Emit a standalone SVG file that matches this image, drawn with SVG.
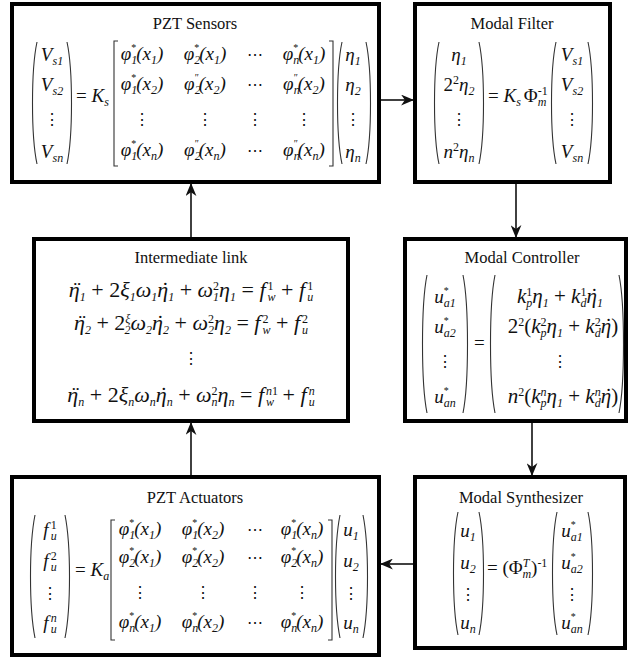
<svg xmlns="http://www.w3.org/2000/svg" width="628" height="659" viewBox="0 0 628 659">
<style>
.box{fill:#fff;stroke:#000;stroke-width:4}
.ttl{font-family:"Liberation Serif","Times New Roman","DejaVu Serif",serif;font-size:16.5px;fill:#111;text-anchor:middle}
.m{font-family:"Liberation Serif","Times New Roman","DejaVu Serif",serif;font-style:italic;font-size:18px;fill:#111}
.mx{font-size:19px}
.eq{font-size:22px}
.kc{font-size:21px}
.c{text-anchor:middle}
.r{font-style:normal}
.sb{font-size:12px;baseline-shift:-4px}
.sp{font-size:12px;baseline-shift:7px}
.st{font-size:10px;baseline-shift:9px;font-style:normal}
.dl{fill:none;stroke:#333;stroke-width:1.1}
.dots{font-family:"DejaVu Serif",serif;font-size:16px;fill:#111;text-anchor:middle}
.cn{stroke:#111;stroke-width:1.6;fill:none;marker-end:url(#ah)}
</style>
<defs>
<marker id="ah" viewBox="0 0 12 10" refX="11" refY="5" markerWidth="13" markerHeight="11" markerUnits="userSpaceOnUse" orient="auto"><path d="M0,0 L12,5 L0,10 L3.5,5 z" fill="#111"/></marker>
</defs>

<g id="pzt-sensors">
<rect class="box" x="12" y="4" width="367" height="178"/>
<text class="ttl" x="195" y="29">PZT Sensors</text>
<path class="dl" d="M37,42 C31,70 31,136 37,164 M67,42 C73,70 73,136 67,164"/>
<text class="m mx c" x="52" y="61">V<tspan class="sb">s1</tspan></text>
<text class="m mx c" x="52" y="91">V<tspan class="sb">s2</tspan></text>
<text class="dots" x="52" y="125">⋮</text>
<text class="m mx c" x="52" y="158">V<tspan class="sb">sn</tspan></text>
<text class="m mx" x="76" y="102"><tspan class="r">=</tspan> K<tspan class="sb">s</tspan></text>
<path class="dl" d="M118,41 H114 V166 H118 M329,41 H333 V166 H329"/>
<text class="m mx c" x="142" y="60">φ<tspan class="sb">1</tspan><tspan class="st" dx="-6">*</tspan>(x<tspan class="sb">1</tspan>)</text>
<text class="m mx c" x="205" y="60">φ<tspan class="sb">2</tspan><tspan class="st" dx="-6">*</tspan>(x<tspan class="sb">1</tspan>)</text>
<text class="dots" x="255" y="60">⋯</text>
<text class="m mx c" x="304" y="60">φ<tspan class="sb">n</tspan><tspan class="st" dx="-6">*</tspan>(x<tspan class="sb">1</tspan>)</text>
<text class="m mx c" x="142" y="90">φ<tspan class="sb">1</tspan><tspan class="st" dx="-6">*</tspan>(x<tspan class="sb">2</tspan>)</text>
<text class="m mx c" x="205" y="90">φ<tspan class="sb">2</tspan><tspan class="st" dx="-6">″</tspan>(x<tspan class="sb">2</tspan>)</text>
<text class="dots" x="255" y="90">⋯</text>
<text class="m mx c" x="304" y="90">φ<tspan class="sb">n</tspan><tspan class="st" dx="-6">″</tspan>(x<tspan class="sb">2</tspan>)</text>
<text class="dots" x="142" y="125">⋮</text>
<text class="dots" x="205" y="125">⋮</text>
<text class="dots" x="255" y="125">⋮</text>
<text class="dots" x="304" y="125">⋮</text>
<text class="m mx c" x="142" y="156">φ<tspan class="sb">1</tspan><tspan class="st" dx="-6">*</tspan>(x<tspan class="sb">n</tspan>)</text>
<text class="m mx c" x="205" y="156">φ<tspan class="sb">2</tspan><tspan class="st" dx="-6">″</tspan>(x<tspan class="sb">n</tspan>)</text>
<text class="dots" x="255" y="156">⋯</text>
<text class="m mx c" x="304" y="156">φ<tspan class="sb">n</tspan><tspan class="st" dx="-6">″</tspan>(x<tspan class="sb">n</tspan>)</text>
<path class="dl" d="M342,42 C336,70 336,136 342,164 M366,42 C372,70 372,136 366,164"/>
<text class="m mx c" x="353" y="61">η<tspan class="sb">1</tspan></text>
<text class="m mx c" x="353" y="91">η<tspan class="sb">2</tspan></text>
<text class="dots" x="353" y="125">⋮</text>
<text class="m mx c" x="353" y="158">η<tspan class="sb">n</tspan></text>
</g>

<g id="modal-filter">
<rect class="box" x="415" y="4" width="195" height="178"/>
<text class="ttl" x="512" y="29">Modal Filter</text>
<path class="dl" d="M439,42 C433,70 433,136 439,164 M479,42 C485,70 485,136 479,164"/>
<text class="m mx c" x="459" y="61">η<tspan class="sb">1</tspan></text>
<text class="m mx c" x="459" y="91"><tspan class="r">2</tspan><tspan class="sp r">2</tspan>η<tspan class="sb">2</tspan></text>
<text class="dots" x="459" y="125">⋮</text>
<text class="m mx c" x="459" y="158">n<tspan class="sp r">2</tspan>η<tspan class="sb">n</tspan></text>
<text class="m mx" x="488" y="102"><tspan class="r">=</tspan> K<tspan class="sb">s</tspan><tspan class="r" dx="3">Φ</tspan><tspan class="sp r">-1</tspan><tspan class="sb" dx="-10">m</tspan></text>
<path class="dl" d="M556,42 C550,70 550,136 556,164 M588,42 C594,70 594,136 588,164"/>
<text class="m mx c" x="572" y="61">V<tspan class="sb">s1</tspan></text>
<text class="m mx c" x="572" y="91">V<tspan class="sb">s2</tspan></text>
<text class="dots" x="572" y="125">⋮</text>
<text class="m mx c" x="572" y="158">V<tspan class="sb">sn</tspan></text>
</g>

<g id="intermediate-link">
<rect class="box" x="34" y="239" width="314" height="182"/>
<text class="ttl" x="191" y="263">Intermediate link</text>
<text class="m eq c" x="191" y="297">η<tspan dx="-7.8">¨</tspan><tspan class="sb" dx="0.5">1</tspan> <tspan class="r">+ 2</tspan>ξ<tspan class="sb">1</tspan>ω<tspan class="sb">1</tspan>η<tspan dx="-7.8">˙</tspan><tspan class="sb" dx="0.5">1</tspan> <tspan class="r">+</tspan> ω<tspan class="sp r">2</tspan><tspan class="sb" dx="-6">1</tspan>η<tspan class="sb">1</tspan> <tspan class="r">=</tspan> f<tspan class="sp r" dx="2">1</tspan><tspan class="sb" dx="-6">w</tspan> <tspan class="r">+</tspan> f<tspan class="sp r" dx="2">1</tspan><tspan class="sb" dx="-6">u</tspan></text>
<text class="m eq c" x="191" y="330">η<tspan dx="-7.8">¨</tspan><tspan class="sb" dx="0.5">2</tspan> <tspan class="r">+ 2</tspan><tspan class="sp">ξ</tspan><tspan class="sb" dx="-6">2</tspan>ω<tspan class="sb">2</tspan>η<tspan dx="-7.8">˙</tspan><tspan class="sb" dx="0.5">2</tspan> <tspan class="r">+</tspan> ω<tspan class="sp r">2</tspan><tspan class="sb" dx="-6">2</tspan>η<tspan class="sb">2</tspan> <tspan class="r">=</tspan> f<tspan class="sp r" dx="2">2</tspan><tspan class="sb" dx="-6">w</tspan> <tspan class="r">+</tspan> f<tspan class="sp r" dx="2">2</tspan><tspan class="sb" dx="-6">u</tspan></text>
<text class="dots" x="191" y="364">⋮</text>
<text class="m eq c" x="191" y="402">η<tspan dx="-7.8">¨</tspan><tspan class="sb" dx="0.5">n</tspan> <tspan class="r">+ 2</tspan>ξ<tspan class="sb">n</tspan>ω<tspan class="sb">n</tspan>η<tspan dx="-7.8">˙</tspan><tspan class="sb" dx="0.5">n</tspan> <tspan class="r">+</tspan> ω<tspan class="sp r">2</tspan><tspan class="sb" dx="-6">n</tspan>η<tspan class="sb">n</tspan> <tspan class="r">=</tspan> f<tspan class="sp" dx="2">n</tspan><tspan class="sp r">1</tspan><tspan class="sb" dx="-12">w</tspan> <tspan class="r" dx="3">+</tspan> f<tspan class="sp" dx="2">n</tspan><tspan class="sb" dx="-6">u</tspan></text>
</g>

<g id="modal-controller">
<rect class="box" x="405" y="239" width="221" height="182"/>
<text class="ttl" x="522" y="263">Modal Controller</text>
<path class="dl" d="M427,275 C421,305 421,383 427,413 M463,275 C469,305 469,383 463,413"/>
<text class="m mx c" x="445" y="303">u<tspan class="st">*</tspan><tspan class="sb" dx="-5">a1</tspan></text>
<text class="m mx c" x="445" y="333">u<tspan class="st">*</tspan><tspan class="sb" dx="-5">a2</tspan></text>
<text class="dots" x="445" y="367">⋮</text>
<text class="m mx c" x="445" y="403">u<tspan class="st">*</tspan><tspan class="sb" dx="-5">an</tspan></text>
<text class="m mx r" x="474" y="349">=</text>
<path class="dl" d="M495,275 C489,305 489,383 495,413 M619,275 C625,305 625,383 619,413"/>
<text class="m kc c" x="560" y="303">k<tspan class="sp r">1</tspan><tspan class="sb" dx="-6">p</tspan>η<tspan class="sb">1</tspan> <tspan class="r">+</tspan> k<tspan class="sp r">1</tspan><tspan class="sb" dx="-6">d</tspan>η<tspan dx="-7.4">˙</tspan><tspan class="sb" dx="0.5">1</tspan></text>
<text class="m kc c" x="563" y="333"><tspan class="r">2</tspan><tspan class="sp r">2</tspan><tspan class="r">(</tspan>k<tspan class="sp r">2</tspan><tspan class="sb" dx="-6">p</tspan>η<tspan class="sb">1</tspan> <tspan class="r">+</tspan> k<tspan class="sp r">2</tspan><tspan class="sb" dx="-6">d</tspan>η<tspan dx="-7.4">˙</tspan><tspan class="r" dx="0.5">)</tspan></text>
<text class="dots" x="560" y="367">⋮</text>
<text class="m kc c" x="563" y="403">n<tspan class="sp r">2</tspan><tspan class="r">(</tspan>k<tspan class="sp">n</tspan><tspan class="sb" dx="-6">p</tspan>η<tspan class="sb">1</tspan> <tspan class="r">+</tspan> k<tspan class="sp">n</tspan><tspan class="sb" dx="-6">d</tspan>η<tspan dx="-7.4">˙</tspan><tspan class="r" dx="0.5">)</tspan></text>
</g>

<g id="pzt-actuators">
<rect class="box" x="12" y="477" width="367" height="178"/>
<text class="ttl" x="195" y="503">PZT Actuators</text>
<path class="dl" d="M35,515 C29,545 29,608 35,638 M65,515 C71,545 71,608 65,638"/>
<text class="m mx c" x="50" y="536">f<tspan class="sp r" dx="2">1</tspan><tspan class="sb" dx="-6">u</tspan></text>
<text class="m mx c" x="50" y="567">f<tspan class="sp r" dx="2">2</tspan><tspan class="sb" dx="-6">u</tspan></text>
<text class="dots" x="50" y="599">⋮</text>
<text class="m mx c" x="50" y="629">f<tspan class="sp" dx="2">n</tspan><tspan class="sb" dx="-6">u</tspan></text>
<text class="m mx" x="75" y="576"><tspan class="r">=</tspan> K<tspan class="sb">a</tspan></text>
<path class="dl" d="M115,520 H111 V640 H115 M328,520 H332 V640 H328"/>
<text class="m mx c" x="140" y="535">φ<tspan class="sb">1</tspan><tspan class="st" dx="-6">*</tspan>(x<tspan class="sb">1</tspan>)</text>
<text class="m mx c" x="203" y="535">φ<tspan class="sb">1</tspan><tspan class="st" dx="-6">*</tspan>(x<tspan class="sb">2</tspan>)</text>
<text class="dots" x="255" y="535">⋯</text>
<text class="m mx c" x="302" y="535">φ<tspan class="sb">1</tspan><tspan class="st" dx="-6">*</tspan>(x<tspan class="sb">n</tspan>)</text>
<text class="m mx c" x="140" y="563">φ<tspan class="sb">2</tspan><tspan class="st" dx="-6">*</tspan>(x<tspan class="sb">1</tspan>)</text>
<text class="m mx c" x="203" y="563">φ<tspan class="sb">2</tspan><tspan class="st" dx="-6">*</tspan>(x<tspan class="sb">2</tspan>)</text>
<text class="dots" x="255" y="563">⋯</text>
<text class="m mx c" x="302" y="563">φ<tspan class="sb">2</tspan><tspan class="st" dx="-6">*</tspan>(x<tspan class="sb">n</tspan>)</text>
<text class="dots" x="140" y="598">⋮</text>
<text class="dots" x="203" y="598">⋮</text>
<text class="dots" x="255" y="598">⋮</text>
<text class="dots" x="302" y="598">⋮</text>
<text class="m mx c" x="140" y="628">φ<tspan class="sb">n</tspan><tspan class="st" dx="-6">*</tspan>(x<tspan class="sb">1</tspan>)</text>
<text class="m mx c" x="203" y="628">φ<tspan class="sb">n</tspan><tspan class="st" dx="-6">*</tspan>(x<tspan class="sb">2</tspan>)</text>
<text class="dots" x="255" y="628">⋯</text>
<text class="m mx c" x="302" y="628">φ<tspan class="sb">n</tspan><tspan class="st" dx="-6">*</tspan>(x<tspan class="sb">n</tspan>)</text>
<path class="dl" d="M340,515 C334,545 334,608 340,638 M363,515 C369,545 369,608 363,638"/>
<text class="m mx c" x="351" y="536">u<tspan class="sb">1</tspan></text>
<text class="m mx c" x="351" y="567">u<tspan class="sb">2</tspan></text>
<text class="dots" x="351" y="599">⋮</text>
<text class="m mx c" x="351" y="629">u<tspan class="sb">n</tspan></text>
</g>

<g id="modal-synthesizer">
<rect class="box" x="415" y="477" width="210" height="171"/>
<text class="ttl" x="521" y="503">Modal Synthesizer</text>
<path class="dl" d="M458,512 C452,540 452,607 458,635 M479,512 C485,540 485,607 479,635"/>
<text class="m mx c" x="468" y="537">u<tspan class="sb">1</tspan></text>
<text class="m mx c" x="468" y="569">u<tspan class="sb">2</tspan></text>
<text class="dots" x="468" y="600">⋮</text>
<text class="m mx c" x="468" y="629">u<tspan class="sb">n</tspan></text>
<text class="m mx" x="487" y="574"><tspan class="r">= (Φ</tspan><tspan class="sp">T</tspan><tspan class="sb" dx="-7">m</tspan><tspan class="r">)</tspan><tspan class="sp r">-1</tspan></text>
<path class="dl" d="M557,512 C551,540 551,607 557,635 M588,512 C594,540 594,607 588,635"/>
<text class="m mx c" x="572" y="537">u<tspan class="st">*</tspan><tspan class="sb" dx="-5">a1</tspan></text>
<text class="m mx c" x="572" y="569">u<tspan class="st">*</tspan><tspan class="sb" dx="-5">a2</tspan></text>
<text class="dots" x="572" y="600">⋮</text>
<text class="m mx c" x="572" y="629">u<tspan class="st">*</tspan><tspan class="sb" dx="-5">an</tspan></text>
</g>

<g id="connectors">
<line class="cn" x1="381" y1="100" x2="413" y2="100"/>
<line class="cn" x1="516" y1="184" x2="516" y2="237"/>
<line class="cn" x1="532" y1="423" x2="532" y2="475"/>
<line class="cn" x1="413" y1="564" x2="381" y2="564"/>
<line class="cn" x1="191" y1="475" x2="191" y2="423"/>
<line class="cn" x1="191" y1="237" x2="191" y2="184"/>
</g>
</svg>
